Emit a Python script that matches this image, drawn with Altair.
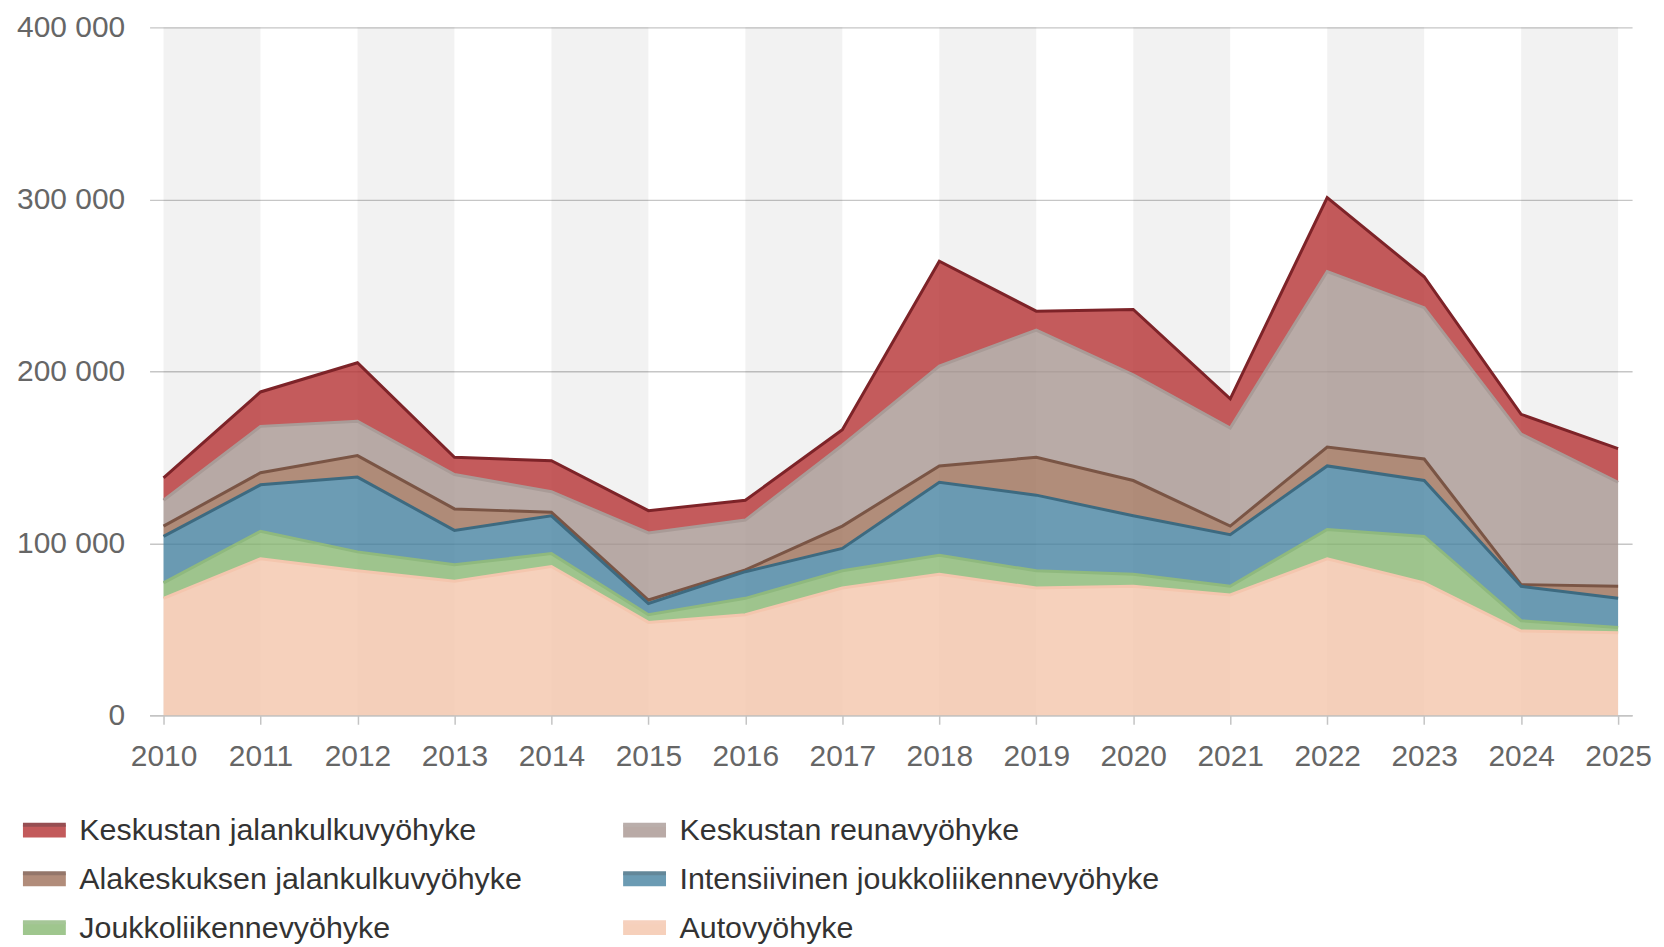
import altair as alt
import pandas as pd

years = list(range(2010, 2026))

# stacking order, top to bottom
series_names = [
    "Keskustan jalankulkuvyöhyke",
    "Keskustan reunavyöhyke",
    "Alakeskuksen jalankulkuvyöhyke",
    "Intensiivinen joukkoliikennevyöhyke",
    "Joukkoliikennevyöhyke",
    "Autovyöhyke",
]

kesk_jalankulku = [13000, 20000, 34000, 10000, 18000, 13000, 11500, 9000, 61000, 11000, 38000, 17000, 43000, 18000, 11500, 19500]
kesk_reuna = [15000, 27000, 20000, 20000, 12000, 39000, 29000, 47000, 58000, 74000, 61500, 57000, 102000, 88000, 87500, 60500]
alakeskus = [6000, 7000, 12500, 12500, 2000, 2000, 1000, 13000, 9500, 22000, 20500, 5000, 11000, 12500, 1000, 7000]
intensiivinen = [27000, 27000, 43500, 20000, 22000, 6500, 15500, 13000, 42500, 44000, 34000, 30000, 37000, 32500, 20000, 17000]
joukkoliikenne = [9000, 16000, 11000, 9500, 7500, 4500, 9500, 10000, 11000, 10000, 7000, 5000, 17000, 27000, 6000, 3000]
auto = [68000, 91000, 84000, 78000, 86500, 54000, 58500, 74000, 82000, 74000, 75000, 70000, 91000, 77000, 49000, 48000]

fill_colors = ["#B53233", "#A89691", "#9E7059", "#4783A1", "#88B873", "#F4C5AB"]
line_colors = ["#7D2328", "#A99B97", "#7A5545", "#3D6A80", "#8FB97E", "#F4C6AE"]

# legend is laid out column by column: left column first, then right column
legend_order = [0, 2, 4, 1, 3, 5]

band_starts = [2010, 2012, 2014, 2016, 2018, 2020, 2022, 2024]
y_ticks = [0, 100000, 200000, 300000, 400000]

all_series = [kesk_jalankulku, kesk_reuna, alakeskus, intensiivinen, joukkoliikenne, auto]
rows = []
for order, (name, vals) in enumerate(zip(series_names, all_series)):
    for yr, v in zip(years, vals):
        rows.append({"Vuosi": yr, "Vyöhyke": name, "ord": order, "arvo": v})
df = pd.DataFrame(rows)
bands = pd.DataFrame({"start": band_starts})

legend_domain = [series_names[i] for i in legend_order]
legend_fills = [fill_colors[i] for i in legend_order]
legend_lines = [line_colors[i] for i in legend_order]

W, H = 1487, 690
FONT = "Liberation Sans"
pad_years = 14 * 15 / (W - 28)

xscale = alt.Scale(domain=[2010 - pad_years, 2025 + pad_years], nice=False, zero=False)
yscale = alt.Scale(domain=[0, 400000], nice=False)

x_axis = alt.Axis(
    values=years, format="d", grid=False, title=None,
    domainColor="#C4C4C4", domainWidth=1.5,
    tickColor="#C4C4C4", tickSize=9, tickWidth=1.5,
    labelFontSize=30, labelFont=FONT, labelColor="#666666",
    labelPadding=17, labelFlush=False, labelOverlap=False,
)
y_axis = alt.Axis(
    values=y_ticks, title=None, domain=False, ticks=False,
    labelExpr="datum.value == 0 ? '0' : format(datum.value / 1000, 'd') + ' 000'",
    labelFontSize=30, labelFont=FONT, labelColor="#666666", labelPadding=25,
    gridColor="#C6C6C6", gridWidth=1.4,
)

base = alt.Chart(df).transform_stack(
    stack="arvo", groupby=["Vuosi"], as_=["y0", "y1"],
    sort=[alt.SortField("ord", order="descending")],
)

band_layer = alt.Chart(bands).transform_calculate(
    end="datum.start + 1"
).mark_rect(color="black", opacity=0.05).encode(
    x=alt.X("start:Q", scale=xscale, axis=x_axis),
    x2="end:Q",
    y=alt.value(0),
    y2=alt.value(H),
)

legend_props = dict(
    orient="none", legendX=-129.5, legendY=782, columns=2,
    symbolType="M-1,-0.3H1V0.3H-1Z", symbolSize=1850,
    symbolStrokeWidth=4, symbolDash=[43, 300],
    labelFontSize=30.5, labelFont=FONT,
    labelColor="#333333", labelOffset=11, rowPadding=9, columnPadding=92,
    title=None, labelLimit=0, padding=0,
)

area_layer = base.mark_area(opacity=0.8).encode(
    x=alt.X("Vuosi:Q", scale=xscale, axis=x_axis),
    y=alt.Y("y1:Q", scale=yscale, axis=y_axis),
    y2="y0:Q",
    fill=alt.Fill(
        "Vyöhyke:N",
        scale=alt.Scale(domain=legend_domain, range=legend_fills),
        legend=alt.Legend(**legend_props),
    ),
)

line_layer = base.mark_line(strokeWidth=3).encode(
    x=alt.X("Vuosi:Q", scale=xscale, axis=x_axis),
    y=alt.Y("y1:Q", scale=yscale, axis=y_axis),
    stroke=alt.Stroke(
        "Vyöhyke:N",
        scale=alt.Scale(domain=legend_domain, range=legend_lines),
        legend=alt.Legend(**legend_props),
    ),
)

chart = alt.layer(band_layer, area_layer, line_layer).properties(
    width=W, height=H,
    autosize=alt.AutoSizeParams(type="none"),
    padding={"left": 142, "top": 18, "right": 24, "bottom": 229},
).configure_view(stroke=None)

chart.save("out.html", embed_options={"renderer": "svg", "actions": False})
